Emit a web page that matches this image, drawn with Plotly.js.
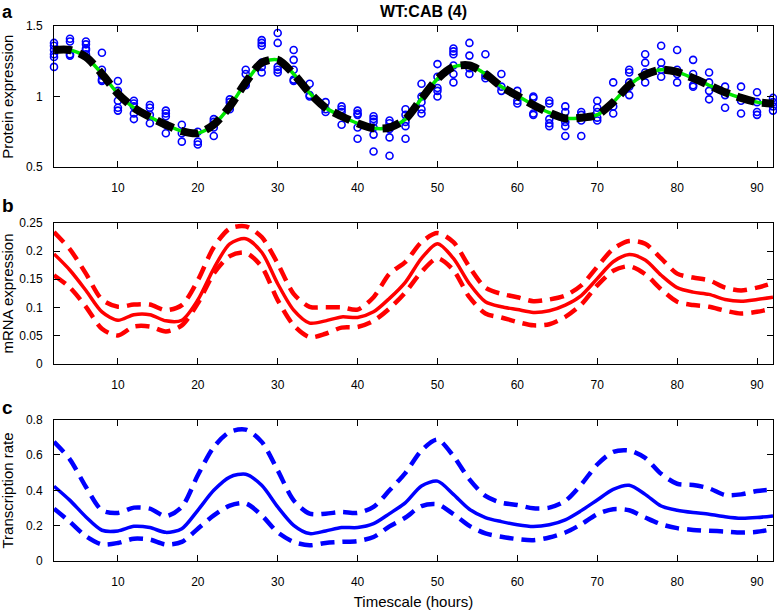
<!DOCTYPE html>
<html>
<head>
<meta charset="utf-8">
<script src="https://cdn.plot.ly/plotly-3.0.1.min.js"></script>
<style>html,body{margin:0;padding:0;background:#fff;}#chart{width:777px;height:610px;}</style>
</head>
<body>
<div id="chart"></div>
<script>
// ---- DATA ----
var times = [2,4,6,8,10,12,14,16,18,20,22,24,26,28,30,32,34,36,38,40,42,44,46,48,50,52,54,56,58,60,62,64,66,68,70,72,74,76,78,80,82,84,86,88,90,92];

// protein observations (replicates per time point)
var proteinObs = [
  [1.38,1.36,1.33,1.30,1.28,1.21],
  [1.41,1.39,1.30,1.29],
  [1.39,1.37,1.34,1.33,1.30],
  [1.31,1.19,1.15,1.12,1.11],
  [1.11,1.04,0.97,0.92,0.90],
  [0.97,0.95,0.93,0.88,0.84],
  [0.94,0.92,0.87,0.81],
  [0.90,0.88,0.86,0.80,0.74],
  [0.80,0.74,0.68],
  [0.75,0.68,0.66],
  [0.84,0.82,0.78,0.72],
  [0.98,0.96,0.93,0.91],
  [1.19,1.16,1.09,1.08],
  [1.40,1.38,1.36,1.24,1.21,1.17],
  [1.45,1.38,1.21,1.19,1.17],
  [1.33,1.26,1.19,1.12,1.11],
  [1.09,1.01,1.00],
  [0.96,0.91,0.89],
  [0.93,0.91,0.89,0.80],
  [0.90,0.88,0.87,0.78,0.70],
  [0.86,0.84,0.82,0.78,0.73,0.61],
  [0.83,0.81,0.77,0.71,0.58],
  [0.91,0.87,0.82,0.79,0.70],
  [1.09,1.00,0.96,0.91,0.88],
  [1.23,1.14,1.06,1.04,1.00],
  [1.34,1.32,1.30,1.22,1.16,1.10],
  [1.38,1.29,1.20,1.16],
  [1.30,1.15,1.13],
  [1.16,1.07,1.04],
  [1.04,0.97,0.95],
  [1.00,0.99,0.88,0.87],
  [0.97,0.95,0.84,0.81,0.79],
  [0.93,0.89,0.82,0.79,0.72],
  [0.89,0.87,0.83,0.72],
  [0.97,0.92,0.89,0.85,0.83],
  [1.10,0.93,0.88],
  [1.19,1.17,1.10,1.07,1.01],
  [1.30,1.24,1.17,1.10],
  [1.36,1.24,1.19,1.14],
  [1.33,1.19,1.16,1.10],
  [1.26,1.16,1.08,1.07],
  [1.17,1.10,1.04,0.98],
  [1.07,1.01,0.92],
  [1.07,0.97,0.88],
  [1.03,0.96,0.89,0.87],
  [0.99,0.96,0.93,0.90]
];

var proteinFit = [1.33,1.33,1.28,1.16,1.02,0.92,0.855,0.80,0.755,0.74,0.80,0.93,1.10,1.24,1.26,1.16,1.025,0.92,0.86,0.81,0.775,0.78,0.84,0.985,1.125,1.21,1.22,1.16,1.07,1.005,0.94,0.885,0.845,0.85,0.87,0.96,1.08,1.155,1.19,1.175,1.13,1.08,1.03,0.99,0.96,0.95];

var mrnaMean  = [0.195,0.166,0.130,0.092,0.077,0.087,0.087,0.076,0.077,0.113,0.169,0.213,0.222,0.198,0.142,0.095,0.072,0.076,0.083,0.082,0.092,0.116,0.145,0.187,0.213,0.187,0.142,0.110,0.101,0.096,0.091,0.094,0.104,0.121,0.151,0.181,0.194,0.184,0.157,0.135,0.127,0.123,0.114,0.111,0.114,0.118];
var mrnaUpper = [0.234,0.203,0.160,0.114,0.101,0.105,0.105,0.095,0.104,0.148,0.207,0.240,0.244,0.225,0.178,0.124,0.101,0.100,0.100,0.096,0.118,0.160,0.181,0.216,0.232,0.216,0.172,0.135,0.124,0.118,0.111,0.114,0.121,0.139,0.172,0.204,0.218,0.213,0.187,0.160,0.153,0.148,0.135,0.130,0.135,0.143];
var mrnaLower = [0.157,0.135,0.101,0.062,0.050,0.066,0.066,0.057,0.068,0.107,0.160,0.191,0.197,0.172,0.113,0.068,0.047,0.053,0.064,0.065,0.076,0.098,0.127,0.163,0.187,0.166,0.118,0.089,0.082,0.074,0.068,0.070,0.083,0.105,0.139,0.165,0.173,0.159,0.132,0.110,0.104,0.101,0.094,0.089,0.092,0.098];

var transMean  = [0.423,0.343,0.249,0.174,0.170,0.196,0.189,0.162,0.183,0.287,0.400,0.475,0.491,0.428,0.306,0.202,0.155,0.170,0.189,0.189,0.211,0.268,0.330,0.424,0.452,0.377,0.293,0.246,0.223,0.205,0.195,0.205,0.233,0.285,0.345,0.405,0.428,0.377,0.311,0.287,0.274,0.265,0.251,0.242,0.246,0.255];
var transUpper = [0.674,0.574,0.419,0.287,0.272,0.302,0.296,0.253,0.306,0.485,0.645,0.730,0.743,0.674,0.513,0.343,0.268,0.268,0.277,0.272,0.306,0.400,0.499,0.625,0.687,0.593,0.462,0.368,0.330,0.317,0.298,0.302,0.340,0.433,0.546,0.617,0.625,0.583,0.493,0.437,0.430,0.411,0.373,0.377,0.396,0.405];
var transLower = [0.296,0.221,0.140,0.094,0.102,0.126,0.121,0.094,0.108,0.183,0.258,0.313,0.326,0.258,0.162,0.108,0.089,0.102,0.108,0.113,0.136,0.196,0.246,0.311,0.321,0.265,0.199,0.156,0.137,0.124,0.118,0.133,0.161,0.208,0.265,0.293,0.287,0.246,0.208,0.186,0.176,0.171,0.167,0.161,0.165,0.180];

var xTickVals = [10,20,30,40,50,60,70,80,90];
var titleText = 'WT:CAB (4)';
var yTitles = ['Protein expression','mRNA expression','Transcription rate'];
var xTitle = 'Timescale (hours)';
var panelLetters = ['a','b','c'];

// ---- build traces ----
var obsX = [], obsY = [];
times.forEach(function(t, i){ proteinObs[i].forEach(function(v){ obsX.push(t); obsY.push(v); }); });

var FONT = 'Liberation Sans, Arial, Helvetica, sans-serif';
var traces = [
  {x: obsX, y: obsY, xaxis:'x', yaxis:'y', type:'scatter', mode:'markers', cliponaxis:false,
   marker:{symbol:'circle-open', size:7, color:'#0000ff', line:{width:1.6, color:'#0000ff'}}},
  {x: times, y: proteinFit, xaxis:'x', yaxis:'y', type:'scatter', mode:'lines',
   line:{color:'#00e600', width:3.5, shape:'spline', smoothing:0.8}},
  {x: times, y: proteinFit, xaxis:'x', yaxis:'y', type:'scatter', mode:'lines',
   line:{color:'#000000', width:8, dash:'18px,8px', shape:'spline', smoothing:0.8}},
  {x: times, y: mrnaUpper, xaxis:'x2', yaxis:'y2', type:'scatter', mode:'lines',
   line:{color:'#ff0000', width:4.5, dash:'14px,8px', shape:'spline', smoothing:0.8}},
  {x: times, y: mrnaLower, xaxis:'x2', yaxis:'y2', type:'scatter', mode:'lines',
   line:{color:'#ff0000', width:4.5, dash:'14px,8px', shape:'spline', smoothing:0.8}},
  {x: times, y: mrnaMean, xaxis:'x2', yaxis:'y2', type:'scatter', mode:'lines',
   line:{color:'#ff0000', width:3.5, shape:'spline', smoothing:0.8}},
  {x: times, y: transUpper, xaxis:'x3', yaxis:'y3', type:'scatter', mode:'lines',
   line:{color:'#0000ff', width:4.5, dash:'14px,8px', shape:'spline', smoothing:0.8}},
  {x: times, y: transLower, xaxis:'x3', yaxis:'y3', type:'scatter', mode:'lines',
   line:{color:'#0000ff', width:4.5, dash:'14px,8px', shape:'spline', smoothing:0.8}},
  {x: times, y: transMean, xaxis:'x3', yaxis:'y3', type:'scatter', mode:'lines',
   line:{color:'#0000ff', width:3.5, shape:'spline', smoothing:0.8}}
];

function xax(anchor){
  return {anchor: anchor, domain:[0,1], range:[2,92], tickvals: xTickVals, ticks:'inside', ticklen:6,
    tickcolor:'#000', showline:true, linecolor:'#000', linewidth:1, mirror:'ticks', showgrid:false,
    zeroline:false, tickfont:{family:FONT, size:12, color:'#000'}, ticklabelstandoff:10};
}
function yax(anchor, dom, rng, tv, tt){
  return {anchor: anchor, domain: dom, range: rng, tickvals: tv, ticktext: tt, ticks:'inside', ticklen:6,
    tickcolor:'#000', showline:true, linecolor:'#000', linewidth:1, mirror:'ticks', showgrid:false,
    zeroline:false, tickfont:{family:FONT, size:12, color:'#000'}, ticklabelstandoff:8};
}

var xa3 = xax('y3');
xa3.title = {text: xTitle, font:{family:FONT, size:15, color:'#000'}, standoff:8};

var domA = [0.7364, 1], domB = [0.369, 0.6318], domC = [0, 0.2643];
var layout = {
  width:777, height:610,
  margin:{l:54, r:4, t:26, b:49},
  paper_bgcolor:'#fff', plot_bgcolor:'#fff',
  showlegend:false,
  font:{family:FONT, color:'#000'},
  title:{text:'<b>'+titleText+'</b>', x:0.545, xanchor:'center', y:0.981, yanchor:'middle',
         font:{family:FONT, size:16, color:'#000'}},
  xaxis: xax('y'),
  yaxis: yax('x', domA, [0.5,1.5], [0.5,1,1.5], ['0.5','1','1.5']),
  xaxis2: xax('y2'),
  yaxis2: yax('x2', domB, [0,0.25], [0,0.05,0.1,0.15,0.2,0.25], ['0','0.05','0.1','0.15','0.2','0.25']),
  xaxis3: xa3,
  yaxis3: yax('x3', domC, [0,0.8], [0,0.2,0.4,0.6,0.8], ['0','0.2','0.4','0.6','0.8']),
  annotations: [
    {text:'<b>'+panelLetters[0]+'</b>', xref:'paper', yref:'paper', x:-0.075, y:1.048, xanchor:'left', yanchor:'top', showarrow:false, font:{family:FONT, size:18, color:'#000'}},
    {text:'<b>'+panelLetters[1]+'</b>', xref:'paper', yref:'paper', x:-0.075, y:0.665, xanchor:'left', yanchor:'middle', showarrow:false, font:{family:FONT, size:19, color:'#000'}},
    {text:'<b>'+panelLetters[2]+'</b>', xref:'paper', yref:'paper', x:-0.075, y:0.287, xanchor:'left', yanchor:'middle', showarrow:false, font:{family:FONT, size:19, color:'#000'}},
    {text:yTitles[0], xref:'paper', yref:'paper', x:-0.065, y:(domA[0]+domA[1])/2, xanchor:'center', yanchor:'middle', textangle:-90, showarrow:false, font:{family:FONT, size:15, color:'#000'}},
    {text:yTitles[1], xref:'paper', yref:'paper', x:-0.065, y:(domB[0]+domB[1])/2, xanchor:'center', yanchor:'middle', textangle:-90, showarrow:false, font:{family:FONT, size:15, color:'#000'}},
    {text:yTitles[2], xref:'paper', yref:'paper', x:-0.065, y:(domC[0]+domC[1])/2, xanchor:'center', yanchor:'middle', textangle:-90, showarrow:false, font:{family:FONT, size:15, color:'#000'}}
  ]
};

Plotly.newPlot('chart', traces, layout, {displayModeBar:false, staticPlot:true});
</script>
</body>
</html>
